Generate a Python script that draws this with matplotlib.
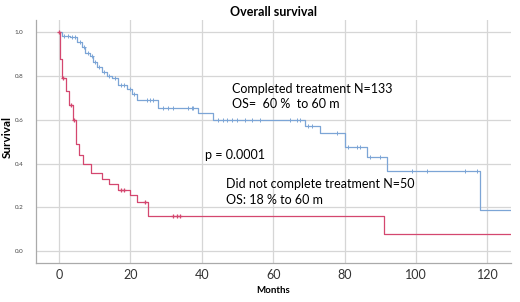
import numpy as np
import matplotlib
matplotlib.use("Agg")
import matplotlib.pyplot as plt

plt.rcParams['font.family'] = ['Lato', 'DejaVu Sans']

# Kaplan-Meier steps (months, survival)
done_t = [0, 0.75, 3.1, 5.0, 6.4, 7.3, 8.7, 9.6, 10.6, 12.0, 13.4, 14.8, 16.6, 19.0,
          20.4, 21.8, 27.8, 39.0, 43.2, 68.9, 73.1, 80.1, 86.2, 91.8, 117.9, 127.0]
done_s = [1.0, 0.985, 0.978, 0.958, 0.935, 0.905, 0.89, 0.866, 0.843, 0.82, 0.80, 0.79, 0.76, 0.74,
          0.72, 0.69, 0.653, 0.633, 0.60, 0.573, 0.541, 0.475, 0.43, 0.366, 0.186, 0.186]
done_cens = [1.5, 2.4, 3.6, 4.4, 5.8, 6.9, 8.0, 9.2, 10.2, 11.2, 12.6, 14.1, 15.6, 17.4, 18.2,
             20.0, 21.0, 24.6, 25.5, 26.4, 29.2, 30.6, 32.0, 36.2, 37.2, 37.6, 44.6, 46.0, 47.0,
             48.4, 49.8, 52.1, 54.0, 56.3, 64.7, 66.6, 67.5, 69.8, 70.8, 78.0, 81.0, 83.4, 84.3,
             87.1, 89.9, 98.8, 103.0, 113.7, 117.0]

notdone_t = [0, 0.2, 0.9, 2.0, 2.9, 3.8, 4.9, 5.7, 6.6, 9.0, 12.0, 14.0, 16.5, 19.9, 21.8, 25.0, 91.0, 127.0]
notdone_s = [1.0, 0.88, 0.79, 0.73, 0.67, 0.60, 0.49, 0.44, 0.40, 0.355, 0.33, 0.305, 0.28, 0.255,
             0.225, 0.16, 0.08, 0.08]
notdone_cens = [0.05, 1.2, 3.3, 4.1, 17.5, 18.3, 24.1, 32.0, 33.0, 34.0]

xticks = [0, 20, 40, 60, 80, 100, 120]
yticks = [0.0, 0.2, 0.4, 0.6, 0.8, 1.0]

blue = '#7ca5d6'
red = '#d4476f'


def surv_at(t, s, when):
    idx = np.searchsorted(t, when, side='right') - 1
    return np.asarray(s)[idx]


fig = plt.figure(figsize=(5.2, 3.02), dpi=100)
ax = fig.add_axes([0.0687, 0.129, 0.914, 0.805])

ax.step(done_t, done_s, where='post', color=blue, lw=0.9)
ax.plot(done_cens, surv_at(done_t, done_s, done_cens), '+', color=blue, ms=2.5, mew=0.7)
ax.step(notdone_t, notdone_s, where='post', color=red, lw=0.9)
ax.plot(notdone_cens, surv_at(notdone_t, notdone_s, notdone_cens), '+', color=red, ms=3, mew=0.9)

ax.set_xlim(-6.5, 126.6)
ax.set_ylim(-0.055, 1.057)
ax.set_xticks(xticks)
ax.set_yticks(yticks)
ax.set_yticklabels([f'{v:.1f}' for v in yticks], fontsize=4.5, color='#444444')
ax.tick_params(axis='x', labelsize=9, colors='#333333', length=0, pad=4)
ax.tick_params(axis='y', length=0, pad=9)
ax.grid(True, color='#d6d6d6', lw=0.9)
ax.set_axisbelow(True)
for side in ['top', 'right']:
    ax.spines[side].set_visible(False)
for side in ['left', 'bottom']:
    ax.spines[side].set_color('#aaaaaa')
    ax.spines[side].set_linewidth(0.9)

ax.set_title('Overall survival', fontsize=9, fontweight='bold', pad=3)
ax.set_xlabel('Months', fontsize=7, fontweight='bold', labelpad=4)
ax.set_ylabel('Survival', fontsize=8.5, fontweight='bold')
ax.yaxis.set_label_coords(-0.049, 0.52)

ax.text(48.5, 0.741, 'Completed treatment N=133', fontsize=9, va='center')
ax.text(48.5, 0.673, 'OS=  60 %  to 60 m', fontsize=9, va='center')
ax.text(40.9, 0.44, 'p = 0.0001', fontsize=9, va='center')
ax.text(46.8, 0.307, 'Did not complete treatment N=50', fontsize=9, va='center')
ax.text(46.8, 0.233, 'OS: 18 % to 60 m', fontsize=9, va='center')

fig.savefig('out.png', dpi=100)
